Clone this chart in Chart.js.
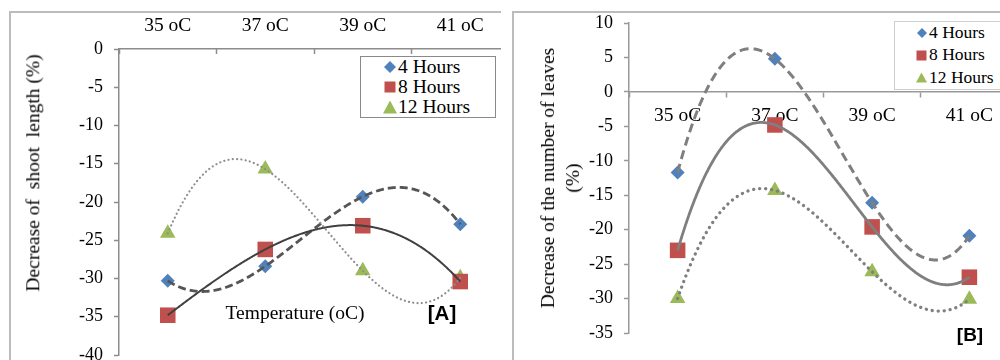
<!DOCTYPE html>
<html><head><meta charset="utf-8">
<script src="https://cdn.jsdelivr.net/npm/chart.js@4.4.1/dist/chart.umd.min.js"></script>
<style>
html,body{margin:0;padding:0;width:1000px;height:360px;overflow:hidden;background:#fff;font-family:'Liberation Serif','Times New Roman',serif;color:#000;}
.panel{position:absolute;top:0;height:360px;overflow:hidden;}
.frame{position:absolute;border-left:2px solid #bcbcbc;border-top:2px solid #bcbcbc;}
.txt{position:absolute;white-space:pre;transform:translate(-50%,-50%);line-height:1;}
.rot{transform:translate(-50%,-50%) rotate(-90deg);text-align:center;}
.legend{position:absolute;background:#fff;box-sizing:border-box;}
.legend .row{position:absolute;left:0;white-space:nowrap;}
.legend svg{position:absolute;}
.legend span{position:absolute;}
</style></head>
<body>
<div class="panel" style="left:0;width:501px;">
  <div class="frame" style="left:9px;top:11px;width:600px;height:400px;"></div>
  <canvas id="cA" width="520" height="400" style="position:absolute;left:0;top:0;"></canvas>
</div>
<div class="panel" style="left:512px;width:488px;">
  <div class="frame" style="left:0;top:11px;width:600px;height:400px;"></div>
  <canvas id="cB" width="520" height="400" style="position:absolute;left:0;top:0;"></canvas>
</div>

<div class="txt rot" style="left:33px;top:173px;font-size:19.5px;">Decrease of  shoot  length (%)</div>
<div class="txt" style="left:295px;top:313px;font-size:19.5px;">Temperature (oC)</div>
<div class="txt" style="left:442px;top:313px;font-size:20.5px;font-weight:bold;font-family:'Liberation Sans',Arial,sans-serif;">[A]</div>

<div class="txt rot" style="left:560px;top:178px;font-size:19.5px;line-height:25px;">Decrease of the number of leaves
(%)</div>
<div class="txt" style="left:970px;top:334px;font-size:19px;font-weight:bold;font-family:'Liberation Sans',Arial,sans-serif;">[B]</div>

<div id="legA" class="legend" style="left:360px;top:56px;width:136px;height:62px;border:1.5px solid #8a8a8a;"></div>
<div id="legB" class="legend" style="left:894px;top:21px;width:120px;height:69px;border:1.5px solid #cfcfcf;"></div>

<script>
// ---- data ----
const temperatureLabels = ['35 oC', '37 oC', '39 oC', '41 oC'];
const seriesNames = ['4 Hours', '8 Hours', '12 Hours'];

// Panel [A]: decrease of shoot length (%)
const shoot4h  = [-30.3, -28.4, -19.3, -22.9];
const shoot8h  = [-34.8, -26.2, -23.1, -30.4];
const shoot12h = [-24.1, -15.7, -29.0, -29.9];

// Panel [B]: decrease of the number of leaves (%)
const leaves4h  = [-11.7, 4.8, -16.1, -20.9];
const leaves8h  = [-23.0, -4.8, -19.6, -26.9];
const leaves12h = [-30.0, -14.3, -26.1, -30.1];

const shootTicks = {min: -40, max: 0, step: 5};
const leavesTicks = {min: -35, max: 10, step: 5};

// ---- styles ----
const serif = "'Liberation Serif','Times New Roman',serif";
const markerColors = ['#4F81BD', '#C0504D', '#9BBB59'];
const markerStyles = ['rectRot', 'rect', 'triangle'];
const markerRadius = [7, 11, 9];

const trendStylesA = [
  {color: '#555555', width: 2.8, dash: [8, 4], cap: 'butt'},
  {color: '#404040', width: 2, dash: [], cap: 'butt'},
  {color: '#8e8e8e', width: 2.2, dash: [0.1, 4.2], cap: 'round'}
];
const trendStylesB = [
  {color: '#7f7f7f', width: 3, dash: [9, 5], cap: 'butt'},
  {color: '#7f7f7f', width: 2.8, dash: [], cap: 'butt'},
  {color: '#7f7f7f', width: 3.3, dash: [0.1, 5.9], cap: 'round'}
];

Chart.defaults.font.family = serif;
Chart.defaults.color = '#000';

// Order-3 polynomial trendline (as in the original spreadsheet chart): with four
// points the order-3 least-squares fit is the exact cubic through them.
function cubicTrend(vals, t) {
  let s = 0;
  for (let i = 0; i < vals.length; i++) {
    let l = 1;
    for (let j = 0; j < vals.length; j++) if (j !== i) l *= (t - j) / (i - j);
    s += vals[i] * l;
  }
  return s;
}

const trendPlugin = {
  id: 'polyTrend',
  afterDatasetsDraw(chart, args, opts) {
    const {ctx, chartArea} = chart;
    const xs = chart.scales.x, ys = chart.scales.y;
    chart.data.datasets.forEach((ds, di) => {
      const st = opts.styles[di];
      const vals = ds.data, n = vals.length;
      ctx.save();
      ctx.beginPath();
      ctx.rect(chartArea.left, chartArea.top, chartArea.width, chartArea.height);
      ctx.clip();
      ctx.beginPath();
      ctx.strokeStyle = st.color;
      ctx.lineWidth = st.width;
      ctx.setLineDash(st.dash);
      ctx.lineCap = st.cap;
      ctx.lineJoin = 'round';
      const steps = 400;
      for (let k = 0; k <= steps; k++) {
        const t = (n - 1) * k / steps;
        const px = xs.getPixelForValue(t);
        const py = ys.getPixelForValue(cubicTrend(vals, t));
        if (k === 0) ctx.moveTo(px, py); else ctx.lineTo(px, py);
      }
      ctx.stroke();
      ctx.restore();
    });
  }
};

function makeDatasets(seriesList) {
  return seriesList.map((vals, i) => ({
    label: seriesNames[i],
    data: vals,
    showLine: false,
    pointStyle: markerStyles[i],
    pointRadius: markerRadius[i],
    pointHoverRadius: markerRadius[i],
    backgroundColor: markerColors[i],
    borderColor: markerColors[i],
    borderWidth: 0
  }));
}

const axisGray = '#8c8c8c';

new Chart(document.getElementById('cA'), {
  type: 'line',
  data: {labels: temperatureLabels, datasets: makeDatasets([shoot4h, shoot8h, shoot12h])},
  options: {
    responsive: false, animation: false, devicePixelRatio: 1,
    layout: {padding: {left: 0, right: 11, top: 0, bottom: 45}},
    plugins: {legend: {display: false}, tooltip: {enabled: false}, polyTrend: {styles: trendStylesA}},
    scales: {
      x: {
        type: 'category', position: 'top', offset: true,
        grid: {offset: true, drawOnChartArea: false, drawTicks: true, tickLength: -5, tickColor: axisGray, tickWidth: 1.5},
        border: {display: true, color: axisGray, width: 1.5},
        ticks: {color: '#000', font: {family: serif, size: 19.5}, padding: 16, maxRotation: 0, autoSkip: false},
        afterFit(s) { s.height = 49; }
      },
      y: {
        min: shootTicks.min, max: shootTicks.max,
        ticks: {stepSize: shootTicks.step, color: '#000', font: {family: serif, size: 18}, padding: 11},
        grid: {drawOnChartArea: false, tickLength: 5, tickColor: axisGray, tickWidth: 1.5},
        border: {display: true, color: axisGray, width: 1.5},
        afterFit(s) { s.width = 119; }
      }
    }
  },
  plugins: [trendPlugin]
});

new Chart(document.getElementById('cB'), {
  type: 'line',
  data: {labels: temperatureLabels, datasets: makeDatasets([leaves4h, leaves8h, leaves12h])},
  options: {
    responsive: false, animation: false, devicePixelRatio: 1,
    layout: {padding: {left: 0, right: 14, top: 23, bottom: 67}},
    plugins: {legend: {display: false}, tooltip: {enabled: false}, polyTrend: {styles: trendStylesB}},
    scales: {
      x: {
        type: 'category', position: {y: 0}, offset: true,
        grid: {offset: true, drawOnChartArea: false, drawTicks: true, tickLength: 5, tickColor: '#999', tickWidth: 1.5},
        border: {display: true, color: '#999', width: 1.5},
        ticks: {color: '#000', font: {family: serif, size: 19.5}, padding: 7, maxRotation: 0, autoSkip: false}
      },
      y: {
        min: leavesTicks.min, max: leavesTicks.max,
        ticks: {stepSize: leavesTicks.step, color: '#000', font: {family: serif, size: 18}, padding: 11},
        grid: {drawOnChartArea: false, tickLength: 5, tickColor: '#999', tickWidth: 1.5},
        border: {display: true, color: '#999', width: 1.5},
        afterFit(s) { s.width = 117; }
      }
    }
  },
  plugins: [trendPlugin]
});

// ---- HTML legends (boxed, inside plot area as in the reference) ----
function markerSvg(style, color, size) {
  const h = size / 2;
  let shape;
  if (style === 'rectRot') shape = `<polygon points="${h},0 ${size},${h} ${h},${size} 0,${h}" fill="${color}"/>`;
  else if (style === 'rect') shape = `<rect x="0.5" y="0.5" width="${size - 1}" height="${size - 1}" fill="${color}"/>`;
  else shape = `<polygon points="${h},0.5 ${size},${size - 0.5} 0,${size - 0.5}" fill="${color}"/>`;
  return `<svg width="${size}" height="${size}" viewBox="0 0 ${size} ${size}">${shape}</svg>`;
}
function buildLegend(id, cfg) {
  const el = document.getElementById(id);
  seriesNames.forEach((name, i) => {
    const row = document.createElement('div');
    row.className = 'row';
    const cy = cfg.rows[i];
    const ms = cfg.markerSizes[i];
    row.innerHTML = markerSvg(markerStyles[i], markerColors[i], ms) +
      `<span style="font-size:${cfg.font}px;line-height:${cfg.font}px;left:${cfg.textX}px;top:${cy - cfg.font / 2}px;">${name}</span>`;
    const svg = row.querySelector('svg');
    svg.style.left = (cfg.markerX - ms / 2) + 'px';
    svg.style.top = (cy - ms / 2) + 'px';
    el.appendChild(row);
  });
}
buildLegend('legA', {rows: [9.5, 29.5, 49.5], markerX: 28.5, textX: 37, font: 19.5, markerSizes: [12, 12, 14]});
buildLegend('legB', {rows: [10.8, 33, 55.3], markerX: 26.5, textX: 34, font: 17.5, markerSizes: [10, 11, 11]});
</script>
</body></html>
